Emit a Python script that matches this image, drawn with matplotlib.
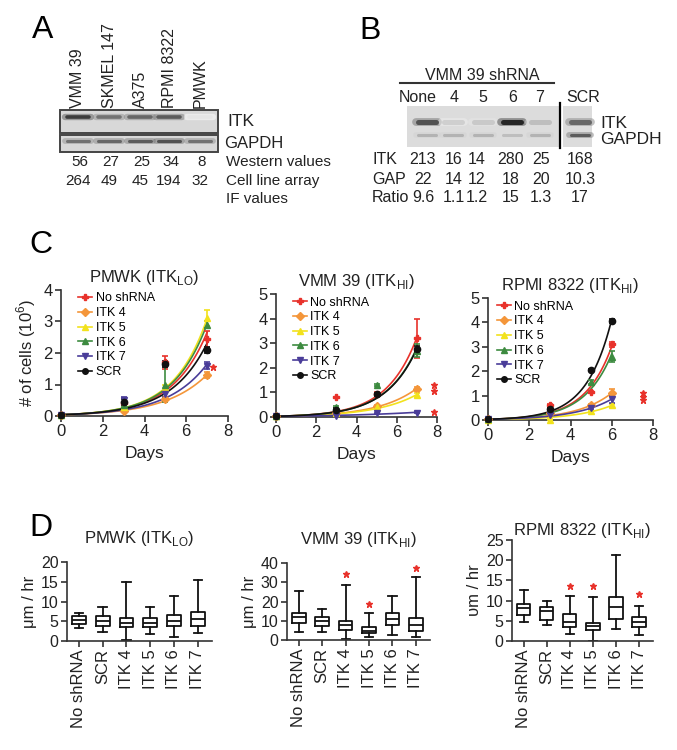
import numpy as np
import matplotlib
matplotlib.use('Agg')
import matplotlib.pyplot as plt
from matplotlib.lines import Line2D
from matplotlib.patches import Rectangle

plt.rcParams['font.family'] = ['Liberation Sans', 'DejaVu Sans']
plt.rcParams['mathtext.fontset'] = 'custom'
plt.rcParams['mathtext.rm'] = 'Liberation Sans'

# ---------------- Panel A data ----------------
a_lines = ["VMM 39", "SKMEL 147", "A375", "RPMI 8322", "PMWK"]
a_western = [56, 27, 25, 34, 8]
a_array = [264, 49, 45, 194, 32]
a_itk_band = [0.9, 0.65, 0.7, 0.75, 0.12]
a_gapdh_band = [0.65, 0.7, 0.75, 0.8, 0.65]
a_row_labels = ["Western values", "Cell line array", "IF values"]

# ---------------- Panel B data ----------------
b_lanes = ["None", "4", "5", "6", "7", "SCR"]
b_itk = [213, 16, 14, 280, 25, 168]
b_gap = [22, 14, 12, 18, 20, 10.3]
b_ratio = [9.6, 1.1, 1.2, 15, 1.3, 17]
b_itk_band = [0.8, 0.22, 0.25, 1.0, 0.3, 0.7]
b_gapdh_band = [0.35, 0.35, 0.35, 0.3, 0.35, 0.75]

# ---------------- Panel C data ----------------
series = ["No shRNA", "ITK 4", "ITK 5", "ITK 6", "ITK 7", "SCR"]
colors = ['#e8322b', '#f4963a', '#f2e21c', '#3d8b40', '#4a3d99', '#111111']
markers = ['P', 'D', '^', '^', 'v', 'o']

pmwk_days = [0, 3, 5, 7]
pmwk_vals = {
    "No shRNA": [0.04, 0.40, 1.70, 2.45],
    "ITK 4": [0.04, 0.15, 0.55, 1.30],
    "ITK 5": [0.04, 0.30, 0.90, 3.10],
    "ITK 6": [0.04, 0.35, 1.00, 2.90],
    "ITK 7": [0.04, 0.50, 0.70, 1.60],
    "SCR": [0.04, 0.45, 1.65, 2.10],
}
pmwk_err = {
    "No shRNA": [0, 0.05, 0.20, 0.25],
    "ITK 4": [0, 0.03, 0.05, 0.10],
    "ITK 5": [0, 0.05, 0.10, 0.25],
    "ITK 6": [0, 0.05, 0.55, 0.10],
    "ITK 7": [0, 0.10, 0.10, 0.12],
    "SCR": [0, 0.10, 0.10, 0.10],
}
pmwk_star_x = [7.3]
pmwk_star_y = [1.55]

vmm_days = [0, 3, 5, 7]
vmm_vals = {
    "No shRNA": [0.03, 0.80, 0.95, 3.20],
    "ITK 4": [0.03, 0.15, 0.45, 1.15],
    "ITK 5": [0.03, 0.15, 0.40, 0.90],
    "ITK 6": [0.03, 0.40, 1.30, 2.70],
    "ITK 7": [0.03, 0.05, 0.15, 0.18],
    "SCR": [0.03, 0.30, 0.92, 2.75],
}
vmm_err = {
    "No shRNA": [0, 0.03, 0.05, 0.80],
    "ITK 4": [0, 0.03, 0.05, 0.08],
    "ITK 5": [0, 0.03, 0.05, 0.08],
    "ITK 6": [0, 0.05, 0.05, 0.25],
    "ITK 7": [0, 0.02, 0.03, 0.03],
    "SCR": [0, 0.05, 0.05, 0.12],
}
vmm_star_x = [7.85, 7.85, 7.85]
vmm_star_y = [1.3, 1.05, 0.2]

rpmi_days = [0, 3, 5, 6]
rpmi_vals = {
    "No shRNA": [0.03, 0.60, 1.15, 3.10],
    "ITK 4": [0.03, 0.30, 0.60, 1.10],
    "ITK 5": [0.02, 0.02, 0.35, 0.60],
    "ITK 6": [0.03, 0.40, 1.55, 2.60],
    "ITK 7": [0.03, 0.20, 0.50, 0.85],
    "SCR": [0.03, 0.45, 2.05, 4.05],
}
rpmi_err = {
    "No shRNA": [0, 0.05, 0.05, 0.10],
    "ITK 4": [0, 0.03, 0.05, 0.18],
    "ITK 5": [0, 0.02, 0.03, 0.05],
    "ITK 6": [0, 0.05, 0.08, 0.22],
    "ITK 7": [0, 0.03, 0.05, 0.15],
    "SCR": [0, 0.05, 0.05, 0.08],
}
rpmi_star_x = [7.5, 7.5, 7.5]
rpmi_star_y = [1.1, 0.95, 0.8]

# ---------------- Panel D data ----------------
box_groups = ["No shRNA", "SCR", "ITK 4", "ITK 5", "ITK 6", "ITK 7"]
# each row: [whisker low, Q1, median, Q3, whisker high]
pmwk_box = [
    [3.2, 4.3, 5.2, 6.3, 7.0],
    [2.4, 3.9, 5.1, 6.3, 8.7],
    [0.3, 3.6, 4.6, 5.7, 14.9],
    [1.8, 3.6, 4.6, 5.7, 8.6],
    [1.1, 3.9, 5.0, 6.5, 11.3],
    [1.9, 3.9, 5.5, 7.4, 15.4],
]
vmm_box = [
    [4.3, 9.0, 11.8, 13.9, 25.2],
    [4.3, 7.5, 10.0, 12.2, 16.0],
    [0.3, 5.2, 7.8, 10.0, 28.7],
    [1.4, 3.5, 4.9, 7.0, 13.9],
    [2.6, 7.8, 10.8, 13.9, 23.0],
    [1.4, 4.9, 7.8, 11.3, 32.5],
]
rpmi_box = [
    [4.8, 6.4, 8.1, 9.2, 12.6],
    [4.0, 5.2, 7.4, 8.3, 10.0],
    [1.7, 3.5, 4.8, 6.6, 11.1],
    [0.1, 2.6, 3.8, 4.5, 11.0],
    [2.9, 5.4, 8.5, 10.8, 21.3],
    [1.5, 3.5, 4.8, 5.9, 8.7],
]
vmm_box_star_pos = [3, 4, 6]
vmm_box_star_y = [34.4, 18.8, 37.4]
rpmi_box_star_pos = [3, 4, 6]
rpmi_box_star_y = [13.6, 13.6, 11.6]

# ---------------- figure ----------------
W, H = 677, 750
fig = plt.figure(figsize=(W / 100, H / 100), dpi=100)
fig.patch.set_facecolor('white')

def px_axes(x0, y0, x1, y1):
    return fig.add_axes([x0 / W, 1 - y1 / H, (x1 - x0) / W, (y1 - y0) / H])

ax0 = fig.add_axes([0, 0, 1, 1])
ax0.set_xlim(0, W)
ax0.set_ylim(H, 0)
ax0.axis('off')

TXT = '#222222'

def band(x, y, w, dark, lw=3.2):
    g = 1 - 0.85 * dark
    ax0.plot([x - w / 2, x + w / 2], [y, y], color=str(min(max(g + 0.12, 0), 1)), lw=lw + 2.0,
             alpha=0.5, solid_capstyle='round', zorder=3)
    ax0.plot([x - w / 2 + 2, x + w / 2 - 2], [y, y], color=str(max(g, 0)), lw=lw,
             solid_capstyle='round', zorder=4)

# Panel letters
for L, (x, y) in zip("ABCD", [(43, 30), (370, 31), (41, 245), (41, 528)]):
    ax0.text(x, y, L, fontsize=23, ha='center', va='center', color='black')

# ---- Panel A ----
a_lane_x = [78, 109, 140, 169, 200]
ax0.add_patch(Rectangle((60, 110), 158, 23, facecolor='#d8d8d8', edgecolor='#444', lw=1.4, zorder=2))
ax0.add_patch(Rectangle((60, 135), 158, 17, facecolor='#d8d8d8', edgecolor='#444', lw=1.4, zorder=2))
for x, lab, d1, d2 in zip(a_lane_x, a_lines, a_itk_band, a_gapdh_band):
    ax0.text(x, 108, lab, rotation=90, ha='center', va='bottom', fontsize=11.5, color=TXT)
    band(x, 117, 26, d1, lw=2.6)
    band(x, 141, 26, d2, lw=2.2)
ax0.text(227, 122, "ITK", fontsize=12.5, va='center', ha='left', color=TXT)
ax0.text(224, 143, "GAPDH", fontsize=12, va='center', ha='left', color=TXT)
for x, v1, v2 in zip(a_lane_x, a_western, a_array):
    ax0.text(x + 2, 162, str(v1), fontsize=11, ha='center', va='center', color=TXT)
    ax0.text(x, 181, str(v2), fontsize=11, ha='center', va='center', color=TXT)
for yy, lab in zip([162, 181, 199], a_row_labels):
    ax0.text(226, yy, lab, fontsize=11, ha='left', va='center', color=TXT)

# ---- Panel B ----
b_lane_x = [427, 453, 483, 512, 540, 580]
b_text_x = [423, 454, 477, 511, 541, 580]
ax0.text(482, 75, "VMM 39 shRNA", fontsize=11.5, ha='center', va='center', color=TXT)
ax0.plot([400, 554], [83, 83], color='#333', lw=1.5)
for x, lab in zip([418, 454, 483, 513, 540, 583], b_lanes):
    ax0.text(x, 97, lab, fontsize=11.5, ha='center', va='center', color=TXT)
ax0.add_patch(Rectangle((407, 106), 152, 41, facecolor='#dcdcdc', edgecolor='none', zorder=2))
ax0.add_patch(Rectangle((563, 106), 29, 41, facecolor='#dcdcdc', edgecolor='none', zorder=2))
ax0.plot([560, 560], [103, 148], color='black', lw=1.6, zorder=5)
for x, d1, d2 in zip(b_lane_x, b_itk_band, b_gapdh_band):
    band(x, 122, 22, d1, lw=3.6)
    band(x, 135, 22, d2, lw=2.2)
ax0.text(600, 123, "ITK", fontsize=12.5, va='center', ha='left', color=TXT)
ax0.text(600, 139, "GAPDH", fontsize=12.5, va='center', ha='left', color=TXT)
for yy, lab, vals in zip([160, 179, 198], ["ITK", "GAP", "Ratio"], [b_itk, b_gap, b_ratio]):
    ax0.text(372, yy, lab, fontsize=11.5, ha='left', va='center', color=TXT)
    for x, v in zip(b_text_x, vals):
        ax0.text(x, yy, f"{v:g}", fontsize=11.5, ha='center', va='center', color=TXT)

# ---- helpers ----
def style(ax, labelsize=11.5):
    for s in ['top', 'right']:
        ax.spines[s].set_visible(False)
    for s in ['left', 'bottom']:
        ax.spines[s].set_linewidth(1.2)
        ax.spines[s].set_color('#333')
    ax.tick_params(width=1.2, length=4, color='#333', labelcolor=TXT, labelsize=labelsize, pad=2)

def exp_fit(t, y):
    # exponential growth Y = Y0*exp(k*t), with Y0 taken from the day-0 measurement
    t = np.asarray(t, float)
    y = np.asarray(y, float)
    A = y[0]
    best = None
    for k in np.linspace(0.02, 1.5, 1500):
        sse = ((y - A * np.exp(k * t)) ** 2).sum()
        if best is None or sse < best[0]:
            best = (sse, k)
    return A, best[1]

def growth(ax, days, vals, errs, ymax, title, sx, sy, ylabel=None, legx=0.05):
    style(ax, 12)
    for name, c, m in zip(series, colors, markers):
        A, k = exp_fit(days, vals[name])
        tt = np.linspace(0, days[-1], 100)
        ax.plot(tt, A * np.exp(k * tt), color=c, lw=1.2, zorder=3)
        ax.errorbar(days, vals[name], yerr=errs[name], fmt=m, color=c, ms=4.5,
                    capsize=2.5, elinewidth=1.2, capthick=1.2, lw=0, zorder=4, clip_on=False)
    ax.plot(sx, sy, linestyle='none', marker='*', color='#e8322b', ms=4.5, clip_on=False)
    ax.set_xlim(0, 8)
    ax.set_ylim(0, ymax)
    ax.set_xticks([0, 2, 4, 6, 8])
    ax.set_yticks(range(0, ymax + 1))
    ax.set_xlabel("Days", fontsize=12.5, color=TXT, labelpad=5)
    ax.set_title(title, fontsize=12, color=TXT, pad=6)
    if ylabel:
        ax.set_ylabel(ylabel, fontsize=12, color=TXT, labelpad=4)
    handles = [Line2D([0], [0], color=c, marker=m, ms=4, lw=1.2) for c, m in zip(colors, markers)]
    ax.legend(handles, series, loc='upper left', bbox_to_anchor=(legx, 1.05), frameon=False,
              fontsize=9, handlelength=1.1, handletextpad=0.3, labelspacing=0.22, borderpad=0.2)

axC1 = px_axes(61, 290, 228, 416)
growth(axC1, pmwk_days, pmwk_vals, pmwk_err, 4, r"PMWK (ITK$_{\mathregular{LO}}$)",
       pmwk_star_x, pmwk_star_y, ylabel=r"# of cells (10$^{\mathregular{6}}$)", legx=0.05)
axC2 = px_axes(276, 294, 437, 417)
growth(axC2, vmm_days, vmm_vals, vmm_err, 5, r"VMM 39 (ITK$_{\mathregular{HI}}$)",
       vmm_star_x, vmm_star_y, legx=0.05)
axC3 = px_axes(488, 298, 653, 420)
growth(axC3, rpmi_days, rpmi_vals, rpmi_err, 5, r"RPMI 8322 (ITK$_{\mathregular{HI}}$)",
       rpmi_star_x, rpmi_star_y, legx=0.0)

def boxes(ax, data, ymax, ystep, title, ylabel, star_pos=None, star_y=None, tpad=8):
    style(ax, 11.5)
    stats = []
    for row, lab in zip(data, box_groups):
        lo, q1, med, q3, hi = row
        stats.append(dict(whislo=lo, q1=q1, med=med, q3=q3, whishi=hi, fliers=[], label=lab))
    pos = np.arange(1, len(stats) + 1)
    lp = dict(color='#111', lw=1.3)
    ax.bxp(stats, positions=pos, widths=0.58, showfliers=False, boxprops=lp, medianprops=lp,
           whiskerprops=lp, capprops=lp, capwidths=0.35)
    if star_pos:
        ax.plot(star_pos, star_y, linestyle='none', marker='*', color='#e8322b', ms=4.5, clip_on=False)
    ax.set_xlim(0.5, 6.6)
    ax.set_ylim(0, ymax)
    ax.set_yticks(np.arange(0, ymax + 0.1, ystep))
    ax.set_xticks(pos)
    ax.set_xticklabels(box_groups, rotation=90, fontsize=12, color=TXT)
    ax.set_title(title, fontsize=12, color=TXT, pad=tpad)
    ax.set_ylabel(ylabel, fontsize=12, color=TXT, labelpad=3)

axD1 = px_axes(67, 562, 212, 641)
boxes(axD1, pmwk_box, 20, 5, r"PMWK (ITK$_{\mathregular{LO}}$)", "μm / hr", tpad=14)
axD2 = px_axes(287, 563, 430, 640)
boxes(axD2, vmm_box, 40, 10, r"VMM 39 (ITK$_{\mathregular{HI}}$)", "μm / hr",
      vmm_box_star_pos, vmm_box_star_y, tpad=14)
axD3 = px_axes(512, 540, 653, 641)
boxes(axD3, rpmi_box, 25, 5, r"RPMI 8322 (ITK$_{\mathregular{HI}}$)", "υm / hr",
      rpmi_box_star_pos, rpmi_box_star_y, tpad=3)

fig.savefig("out.png", dpi=100, facecolor='white')
